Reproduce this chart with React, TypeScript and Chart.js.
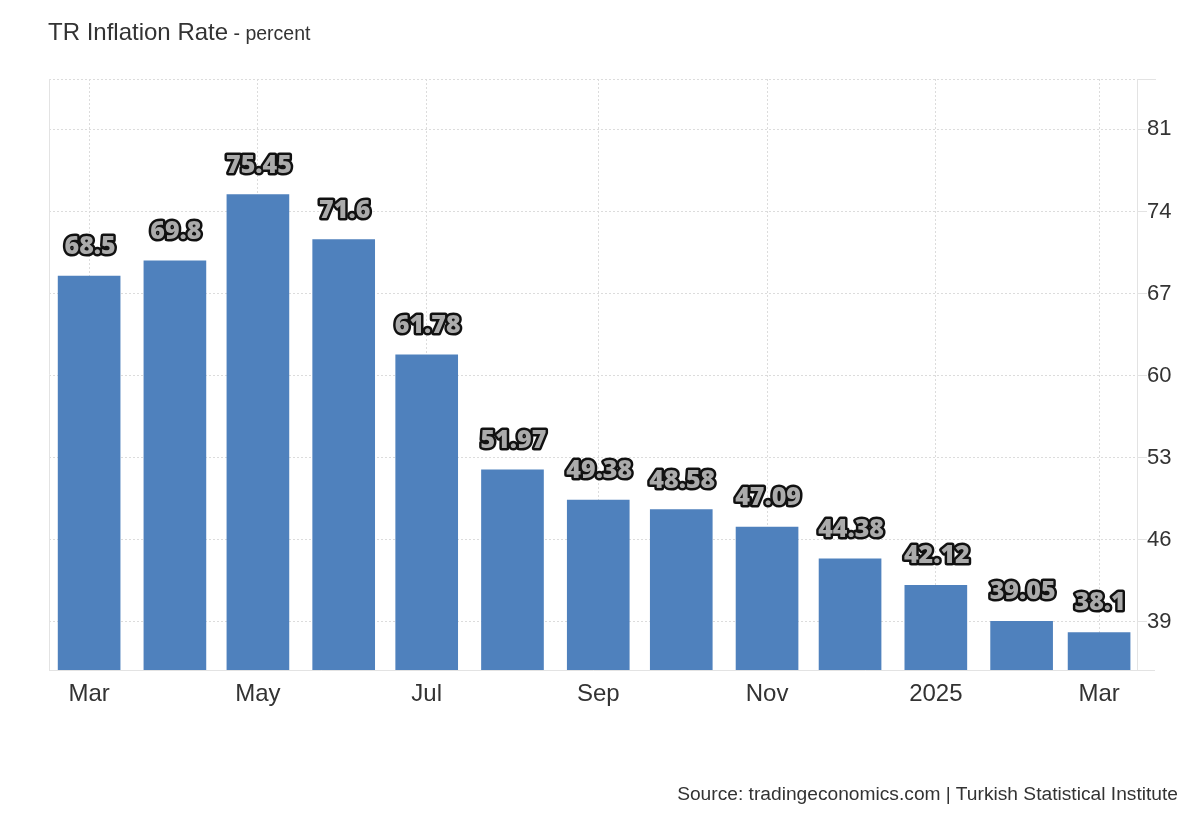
import React, { useEffect, useRef } from "react";
import { Chart, registerables } from "chart.js";

Chart.register(...registerables);

// ---- Data ----
const months = [
  "2024-03", "2024-04", "2024-05", "2024-06", "2024-07", "2024-08", "2024-09",
  "2024-10", "2024-11", "2024-12", "2025-01", "2025-02", "2025-03",
];
const inflation = [68.5, 69.8, 75.45, 71.6, 61.78, 51.97, 49.38, 48.58, 47.09, 44.38, 42.12, 39.05, 38.1];
const xTickMonths = ["2024-03", "2024-05", "2024-07", "2024-09", "2024-11", "2025-01", "2025-03"];
const xTickLabels = ["Mar", "May", "Jul", "Sep", "Nov", "2025", "Mar"];
const yTickValues = [39, 46, 53, 60, 67, 74, 81];

const Y_MIN = 34.9;
const Y_MAX = 85.3;
const X_MIN = -14.5;
const X_MAX = 378.7;

const dayOf = (ym: string) => {
  const [y, m] = ym.split("-").map(Number);
  return (Date.UTC(y, m - 1, 1) - Date.UTC(2024, 2, 1)) / 86400000;
};

const BAR = "#4f81bd";
const GRID = "#dcdcdc";
const BORDER = "#e3e3e3";
const TEXT = "#333333";

export default function App() {
  const ref = useRef<HTMLCanvasElement | null>(null);

  useEffect(() => {
    document.body.style.margin = "0";
    const canvas = ref.current;
    if (!canvas) return;

    const labelPlugin = {
      id: "valueLabels",
      afterDatasetsDraw(chart: any) {
        const ctx = chart.ctx;
        const meta = chart.getDatasetMeta(0);
        ctx.save();
        ctx.font = "800 25px 'Open Sans'";
        ctx.textAlign = "center";
        ctx.textBaseline = "alphabetic";
        ctx.lineJoin = "round";
        ctx.lineWidth = 5;
        ctx.strokeStyle = "#111111";
        ctx.fillStyle = "#ababab";
        meta.data.forEach((el: any, i: number) => {
          const t = String(inflation[i]);
          ctx.strokeText(t, el.x + 1, el.y - 22);
          ctx.fillText(t, el.x + 1, el.y - 22);
        });
        ctx.restore();
      },
    };

    const framePlugin = {
      id: "frame",
      afterDraw(chart: any) {
        const { ctx, chartArea } = chart;
        ctx.save();
        ctx.strokeStyle = BORDER;
        ctx.lineWidth = 1;
        ctx.beginPath();
        ctx.moveTo(chartArea.left + 0.5, chartArea.top);
        ctx.lineTo(chartArea.left + 0.5, chartArea.bottom);
        ctx.moveTo(chartArea.right, chartArea.bottom + 0.5);
        ctx.lineTo(chartArea.right + 18, chartArea.bottom + 0.5);
        ctx.moveTo(chartArea.right, chartArea.top + 0.5);
        ctx.lineTo(chartArea.right + 19, chartArea.top + 0.5);
        ctx.stroke();
        ctx.restore();
      },
    };

    const chart = new Chart(canvas, {
      type: "bar",
      data: {
        datasets: [
          {
            data: months.map((m, i) => ({ x: dayOf(m), y: inflation[i] })),
            backgroundColor: BAR,
            borderWidth: 0,
            barThickness: 62,
          },
        ],
      },
      options: {
        responsive: false,
        animation: false,
        layout: { padding: { left: 49, top: 79, right: 0, bottom: 0 } },
        plugins: {
          legend: { display: false },
          tooltip: { enabled: false },
          title: { display: false },
        },
        scales: {
          x: {
            type: "linear",
            offset: false,
            min: X_MIN,
            max: X_MAX,
            afterBuildTicks: (scale: any) => {
              scale.ticks = xTickMonths.map((m) => ({ value: dayOf(m) }));
            },
            afterFit: (scale: any) => {
              scale.height = 150;
            },
            ticks: {
              autoSkip: false,
              maxRotation: 0,
              padding: 10,
              color: TEXT,
              font: { family: "'Liberation Sans', Arial", size: 24 },
              callback: (v: any) => {
                const idx = xTickMonths.findIndex((m) => dayOf(m) === v);
                return idx >= 0 ? xTickLabels[idx] : "";
              },
            },
            grid: { color: GRID, drawTicks: false, lineWidth: 1, offset: false },
            border: { display: true, color: BORDER, dash: [2, 2], width: 1 },
          },
          y: {
            type: "linear",
            position: "right",
            min: Y_MIN,
            max: Y_MAX,
            afterBuildTicks: (scale: any) => {
              scale.ticks = [...yTickValues, Y_MAX].map((v) => ({ value: v }));
            },
            afterFit: (scale: any) => {
              scale.width = 63;
            },
            ticks: {
              padding: 0,
              color: TEXT,
              font: { family: "'Liberation Sans', Arial", size: 22 },
              callback: (v: any) => (yTickValues.includes(v) ? String(v) : ""),
            },
            grid: { color: GRID, drawTicks: true, tickLength: 10, tickColor: BORDER, lineWidth: 1 },
            border: { display: true, color: BORDER, dash: [2, 2], width: 1 },
          },
        },
      },
      plugins: [labelPlugin, framePlugin],
    } as any);

    return () => chart.destroy();
  }, []);

  return (
    <div style={{ position: "relative", width: 1200, height: 820, background: "#fff", fontFamily: "'Liberation Sans', Arial, sans-serif" }}>
      <canvas ref={ref} width={1200} height={820} style={{ position: "absolute", left: 0, top: 0, width: 1200, height: 820 }} />
      <div style={{ position: "absolute", left: 48, top: 20, fontSize: 24, lineHeight: "24px", color: TEXT, whiteSpace: "nowrap" }}>
        TR Inflation Rate<span style={{ fontSize: 19.5 }}> - percent</span>
      </div>
      <div style={{ position: "absolute", right: 22, top: 784, fontSize: 19.2, lineHeight: "20px", color: TEXT, whiteSpace: "nowrap" }}>
        Source: tradingeconomics.com | Turkish Statistical Institute
      </div>
    </div>
  );
}
